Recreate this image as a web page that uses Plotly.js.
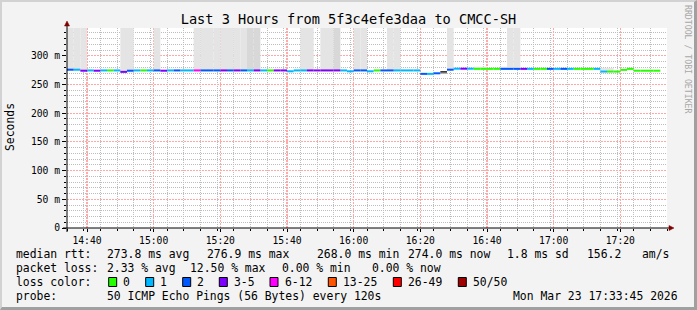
<!DOCTYPE html>
<html><head><meta charset="utf-8">
<script src="https://cdn.plot.ly/plotly-3.0.1.min.js"></script>
<style>
html,body{margin:0;padding:0;background:#f3f3f3;}
#wrap{position:relative;width:697px;height:310px;overflow:hidden;}
#chart{width:697px;height:310px;}
#frame{position:absolute;left:0;top:0;width:697px;height:310px;box-sizing:border-box;border-top:2px solid #d2d2d2;border-left:2px solid #d2d2d2;border-right:3px solid #a0a0a0;border-bottom:3px solid #a0a0a0;pointer-events:none;}
</style></head>
<body><div id="wrap"><div id="chart"></div><div id="frame"></div></div>
<script>
// ---------------- DATA ----------------
const titleText = 'Last 3 Hours from 5f3c4efe3daa to CMCC-SH';
const yAxisLabel = 'Seconds';
const stepMinutes = 2;              // one sample every 120 s
const startUTC = Date.UTC(2026, 2, 23, 14, 34, 0);
const endUTC = Date.UTC(2026, 2, 23, 17, 34, 0);
const firstTickUTC = Date.UTC(2026, 2, 23, 14, 40, 0);

// median rtt (ms) for each 2-minute step
const medianMs = [
  275.8, 275.8, 274.0, 274.5, 274.0, 274.5, 274.5, 274.5, 272.0, 274.0,
  274.5, 274.5, 274.5, 274.5, 274.0, 274.5, 274.5, 274.5, 274.5, 274.5,
  274.5, 274.5, 274.5, 274.5, 274.5, 274.5, 274.5, 274.5, 274.5, 274.5,
  274.5, 274.5, 274.5, 273.0, 274.5, 274.5, 274.5, 274.5, 274.5, 274.5,
  274.5, 274.5, 273.0, 274.5, 274.5, 273.0, 274.5, 274.5, 274.5, 274.5,
  274.5, 274.5, 274.5, 268.5, 268.5, 269.5, null, 275.8, 277.5, 277.5,
  277.5, 277.2, 277.2, 277.2, 277.2, 277.2, 277.2, 277.2, 277.2, 277.2,
  277.2, 277.2, 277.2, 277.2, 277.2, 277.2, 277.2, 277.2, 277.2, 277.2,
  272.5, 272.5, 272.5, 275.5, 277.2, 274.0, 274.0, 274.0, 274.0
];
// lost pings (of 50) for each step
const lostPings = [
  2, 1, 3, 1, 3, 1, 0, 1, 3, 2,
  1, 0, 1, 2, 3, 1, 2, 1, 1, 6,
  2, 2, 2, 3, 2, 3, 2, 1, 3, 1,
  0, 3, 3, 1, 1, 1, 3, 3, 3, 3,
  3, 1, 1, 2, 2, 1, 0, 2, 2, 1,
  1, 1, 1, 2, 1, 2, null, 2, 1, 3,
  1, 0, 0, 0, 0, 2, 2, 2, 3, 1,
  0, 0, 2, 1, 2, 1, 0, 0, 0, 1,
  1, 0, 0, 0, 0, 0, 0, 0, 0
];
const lossLabels = ['0', '1', '2', '3-5', '6-12', '13-25', '26-49', '50/50'];
const lossUpper  = [0, 1, 2, 5, 12, 25, 49, 50];
const lossColors = ['#26ff00', '#00b8ff', '#0059ff', '#7e00ff', '#ff00ff', '#ff5500', '#ff0000', '#a10000'];

// smoke (spread of the pings): first step, number of steps, low ms, high ms, density
const smokeFirst = [0, 8, 13, 19, 27, 35, 38, 40, 43, 48, 56, 56, 57, 61, 65, 66, 80];
const smokeCount = [3, 2, 1, 8, 2, 2, 2, 1, 2, 2, 1, 1, 1, 2, 1, 2, 2];
const smokeLow   = [274, 271, 274, 274, 274, 274, 274, 274, 274, 274, 268.5, 270.5, 275, 277, 277, 277, 272];
const smokeHigh  = [400, 400, 400, 400, 400, 400, 400, 400, 400, 400, 270.5, 273.5, 400, 281, 281, 400, 279];
const smokeDensity = ['low', 'low', 'low', 'low', 'mid', 'low', 'low', 'mid', 'low', 'low', 'high', 'max', 'low', 'low', 'low', 'low', 'low'];

const yTickVals = [0, 50, 100, 150, 200, 250, 300];
const yTickText = ['0', '50 m', '100 m', '150 m', '200 m', '250 m', '300 m'];
const yMinorStep = 10;
const xMajorMinutes = 20;
const xMinorMinutes = 5;

const legendRtt = ['median rtt:', '273.8 ms avg', '276.9 ms max', '268.0 ms min', '274.0 ms now', '1.8 ms sd', '156.2', 'am/s'];
const legendLoss = ['packet loss:', '2.33 % avg', '12.50 % max', '0.00 % min', '0.00 % now'];
const legendColorTitle = 'loss color:';
const legendProbe = ['probe:', '50 ICMP Echo Pings (56 Bytes) every 120s', 'Mon Mar 23 17:33:45 2026'];
const watermark = 'RRDTOOL / TOBI OETIKER';

// ---------------- BUILD ----------------
const MONO = 'DejaVu Sans Mono';
const L = 67, T = 28, W = 600, H = 200;
const YMAX = 348.4;
const px = x => (x - L) / W;
const py = y => (T + H - y) / H;
const tstr = ms => new Date(ms).toISOString().slice(0, 19).replace('T', ' ');
const stepStart = i => startUTC + i * stepMinutes * 60000;

function lossBin(n) {
  for (let k = 0; k < lossUpper.length; k++) if (n <= lossUpper[k]) return k;
  return lossUpper.length - 1;
}

// minor grid positions that do not coincide with major ones
const xMinorVals = [];
for (let t = startUTC; t <= endUTC; t += xMinorMinutes * 60000) {
  const m = new Date(t).getUTCMinutes();
  if (m % xMajorMinutes !== 0) xMinorVals.push(tstr(t));
}
const yMinorVals = [];
for (let v = yMinorStep; v < YMAX; v += yMinorStep) if (v % 50 !== 0) yMinorVals.push(v);

const traces = [];

// smoke bars
const densityColor = {low: '#e4e4e4', mid: '#d8d8d8', high: '#a9a9a9', max: '#3c3c3c'};
const sx = [], sb = [], sy = [], sc = [];
smokeFirst.forEach((f, j) => {
  for (let k = 0; k < smokeCount[j]; k++) {
    const i = f + k;
    sx.push(tstr(stepStart(i) + stepMinutes * 30000));
    sb.push(smokeLow[j]);
    sy.push(smokeHigh[j] - smokeLow[j]);
    sc.push(densityColor[smokeDensity[j]]);
  }
});
traces.push({
  type: 'bar', x: sx, y: sy, base: sb, width: stepMinutes * 60000,
  marker: {color: sc, line: {width: 0}}, hoverinfo: 'skip', showlegend: false
});

// median segments, coloured by loss
const segs = lossLabels.map(() => ({x: [], y: []}));
medianMs.forEach((v, i) => {
  if (v === null || lostPings[i] === null) return;
  const b = lossBin(lostPings[i]);
  segs[b].x.push(tstr(stepStart(i)), tstr(stepStart(i + 1)), null);
  segs[b].y.push(v, v, null);
});
segs.forEach((s, b) => {
  if (!s.x.length) return;
  traces.push({
    type: 'scatter', mode: 'lines', x: s.x, y: s.y, connectgaps: false,
    line: {color: lossColors[b], width: 2}, hoverinfo: 'skip', showlegend: false
  });
});

// ---------------- LAYOUT ----------------
const annotations = [];
function ann(text, x, y, o) {
  annotations.push(Object.assign({
    text: text, x: px(x), y: py(y), xref: 'paper', yref: 'paper',
    xanchor: 'left', yanchor: 'middle', showarrow: false,
    borderpad: 0, borderwidth: 0,
    font: {family: MONO, size: 11.4, color: '#000'}
  }, o || {}));
}
const rttX = [16, 106.7, 207.3, 316.7, 407.7, 507.3, 586.7, 641.7];
legendRtt.forEach((t, i) => ann(t, rttX[i], 254));
const lossX = [16, 107.3, 190, 281.7, 372.3];
legendLoss.forEach((t, i) => ann(t, lossX[i], 268));
ann(legendColorTitle, 16, 282);
const boxX = [108.7, 145.7, 182.7, 219.3, 270, 328.3, 393.3, 458.3];
const shapes = [];
lossLabels.forEach((t, i) => {
  ann(t, boxX[i] + 14.7, 282);
  shapes.push({type: 'rect', xref: 'paper', yref: 'paper',
    x0: px(boxX[i]), x1: px(boxX[i] + 8), y0: py(286.5), y1: py(277.5),
    fillcolor: lossColors[i], line: {color: '#000', width: 1}});
});
const probeX = [16, 107.3, 512.7];
legendProbe.forEach((t, i) => ann(t, probeX[i], 296));
ann(yAxisLabel, 10, 127, {xanchor: 'center', textangle: -90});
ann(watermark, 688, 59, {xanchor: 'center', textangle: 90, font: {family: MONO, size: 8.2, color: '#a8a8a8'}});

// axis lines with arrows
shapes.push({type: 'line', xref: 'paper', yref: 'paper', x0: px(67), x1: px(67), y0: py(232), y1: py(26), line: {color: '#000', width: 1}});
shapes.push({type: 'line', xref: 'paper', yref: 'paper', x0: px(63), x1: px(669), y0: py(228), y1: py(228), line: {color: '#000', width: 1}});
shapes.push({type: 'path', xref: 'paper', yref: 'paper',
  path: `M ${px(64.5)} ${py(26)} L ${px(69.5)} ${py(26)} L ${px(67)} ${py(21)} Z`,
  fillcolor: '#7f0000', line: {color: '#7f0000', width: 0.5}});
shapes.push({type: 'path', xref: 'paper', yref: 'paper',
  path: `M ${px(669)} ${py(225.5)} L ${px(669)} ${py(230.5)} L ${px(674)} ${py(228)} Z`,
  fillcolor: '#7f0000', line: {color: '#7f0000', width: 0.5}});

const MAJOR = '#ffa8a8';
const MINOR = '#bdbdbd';
const tickFont = {family: MONO, size: 9.7, color: '#000'};
const layout = {
  width: 697, height: 310,
  margin: {l: L, r: 697 - L - W, t: T, b: 310 - T - H, pad: 0},
  paper_bgcolor: '#f3f3f3', plot_bgcolor: '#ffffff',
  showlegend: false, barmode: 'overlay', hovermode: false,
  title: {text: titleText, xref: 'container', yref: 'container', x: 0.5, y: 1 - 19.5 / 310,
    xanchor: 'center', yanchor: 'middle', font: {family: MONO, size: 13.6, color: '#000'}},
  // primary axes: minor (grey) grid only
  xaxis: {
    type: 'date', range: [tstr(startUTC), tstr(endUTC)], fixedrange: true,
    tickmode: 'array', tickvals: xMinorVals, showticklabels: false,
    ticks: 'outside', ticklen: 2, tickcolor: '#000', tickwidth: 1,
    showgrid: true, gridcolor: MINOR, griddash: '1px,1px', gridwidth: 1,
    showline: false, zeroline: false
  },
  yaxis: {
    range: [0, YMAX], fixedrange: true,
    tickmode: 'array', tickvals: yMinorVals, showticklabels: false,
    ticks: 'outside', ticklen: 2, tickcolor: '#000',
    showgrid: true, gridcolor: MINOR, griddash: '1px,1px', gridwidth: 1,
    showline: false, zeroline: false
  },
  // overlaid axes: major (red) grid and labels
  xaxis2: {
    type: 'date', overlaying: 'x', anchor: 'y', side: 'bottom',
    range: [tstr(startUTC), tstr(endUTC)], fixedrange: true,
    tick0: tstr(firstTickUTC), dtick: xMajorMinutes * 60000, tickformat: '%H:%M',
    ticks: 'outside', ticklen: 3, tickcolor: '#000', tickwidth: 1,
    showgrid: true, gridcolor: MAJOR, griddash: '2px,1px', gridwidth: 1.2,
    showline: false, zeroline: false, tickfont: tickFont
  },
  yaxis2: {
    overlaying: 'y', anchor: 'x', side: 'left',
    range: [0, YMAX], fixedrange: true,
    tickmode: 'array', tickvals: yTickVals, ticktext: yTickText,
    ticks: 'outside', ticklen: 4, tickcolor: '#000',
    showgrid: true, gridcolor: MAJOR, griddash: '2px,1px', gridwidth: 1.2,
    showline: false, zeroline: false, tickfont: tickFont
  },
  annotations: annotations,
  shapes: shapes
};

// an empty trace so the overlaid axes are drawn
traces.unshift({type: 'scatter', mode: 'lines', x: [], y: [], xaxis: 'x2', yaxis: 'y2', hoverinfo: 'skip', showlegend: false});

Plotly.newPlot('chart', traces, layout, {staticPlot: true, displayModeBar: false});
</script>
</body></html>
